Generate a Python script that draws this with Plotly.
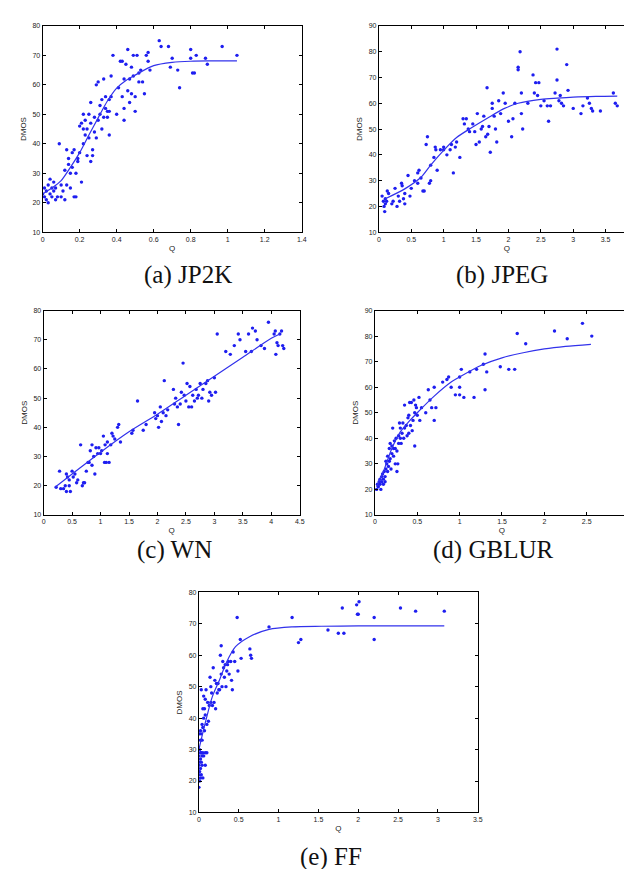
import plotly.graph_objects as go

# ---------------- data ----------------
# (a) JP2K
a_q = [0.0,0.01,0.01,0.02,0.02,0.03,0.03,0.04,0.04,0.05,0.05,0.06,0.06,0.07,0.07,0.08,0.09,0.1,0.1,0.11,
       0.12,0.12,0.13,0.13,0.14,0.14,0.15,0.15,0.16,0.16,0.17,0.17,0.18,0.18,0.19,0.19,0.2,0.2,0.21,0.21,
       0.22,0.22,0.22,0.23,0.23,0.24,0.24,0.25,0.25,0.26,0.26,0.26,0.27,0.27,0.28,0.28,0.29,0.29,0.3,0.3,
       0.31,0.31,0.32,0.32,0.33,0.33,0.34,0.34,0.35,0.35,0.36,0.36,0.36,0.37,0.37,0.38,0.4,0.41,0.42,0.43,
       0.43,0.44,0.44,0.44,0.45,0.46,0.46,0.47,0.47,0.48,0.48,0.49,0.49,0.5,0.5,0.51,0.52,0.52,0.53,0.54,
       0.55,0.56,0.57,0.57,0.58,0.63,0.64,0.68,0.69,0.7,0.73,0.74,0.8,0.8,0.81,0.82,0.83,0.88,0.89,0.97,1.05]
a_dmos = [23,25,22,21,24,26,20,23,28,25,22,27,24,21,25,22,40,22,26,24,
          31,21,38,26,33,35,30,25,37,32,22,38,22,30,35,34,37,46,27,47,
          45,50,40,43,48,45,36,42,50,54,34,47,36,38,44,49,60,42,61,48,
          53,50,45,55,62,49,52,56,51,49,55,43,51,63,56,70,50,59,68,68,
          56,62,52,48,67,72,58,62,54,66,57,70,63,51,56,70,64,61,65,61,
          57,70,68,71,65,75,73,73,66,69,65,59,69,72,64,64,70,69,67,73,70]
a_fit_q = [0,0.05,0.1,0.15,0.2,0.25,0.3,0.35,0.4,0.45,0.5,0.6,0.7,0.8,0.9,1.05]
a_fit_d = [23,25,27.5,32,37,43,48.8,54.5,58.9,61.5,63.3,66.5,67.6,68,68.1,68.1]

# (b) JPEG
b_q = [0.05,0.07,0.08,0.09,0.1,0.1,0.12,0.13,0.15,0.2,0.22,0.25,0.28,0.3,0.32,0.35,0.36,0.38,0.4,0.4,
       0.45,0.48,0.5,0.55,0.6,0.6,0.62,0.65,0.68,0.7,0.73,0.75,0.78,0.8,0.8,0.85,0.87,0.88,0.9,0.95,
       1.0,1.0,1.05,1.1,1.12,1.15,1.18,1.2,1.25,1.3,1.32,1.35,1.38,1.4,1.45,1.48,1.5,1.52,1.55,1.58,
       1.6,1.62,1.65,1.67,1.68,1.7,1.72,1.75,1.75,1.78,1.8,1.82,1.85,1.88,1.92,1.95,2.0,2.05,2.07,2.1,
       2.15,2.15,2.18,2.2,2.2,2.22,2.3,2.38,2.4,2.42,2.45,2.47,2.5,2.55,2.6,2.62,2.65,2.72,2.75,2.75,
       2.78,2.8,2.82,2.85,2.9,2.92,3.0,3.12,3.15,3.22,3.25,3.28,3.3,3.42,3.62,3.65,3.68]
b_dmos = [24,22,20,18,23,21,22,26,25,21,22,27,20,24,22,29,28,23,25,21,
          32,24,27,30,29,33,34,31,26,26,44,47,29,30,36,39,43,42,34,42,
          42,43,40,42,44,33,43,45,39,54,52,54,50,49,52,49,44,56,45,50,
          51,55,47,66,48,51,41,60,58,55,50,45,61,56,64,60,53,47,54,60,
          74,73,80,56,64,50,60,71,64,68,63,68,59,61,59,53,59,64,81,69,
          61,63,60,59,75,65,58,56,59,62,60,58,57,57,64,60,59]
b_fit_q = [0.1,0.4,0.65,0.8,1.0,1.2,1.43,1.68,1.94,2.15,2.5,2.75,3.0,3.35,3.68]
b_fit_d = [23,26.8,31.3,36,41.7,46.7,50.5,54.3,58,60,61.5,62,62.4,62.7,62.8]

# (c) WN
c_q = [0.22,0.28,0.3,0.35,0.38,0.4,0.4,0.42,0.45,0.45,0.47,0.5,0.52,0.55,0.58,0.6,0.65,0.68,0.7,0.72,
       0.75,0.78,0.8,0.82,0.85,0.85,0.88,0.9,0.92,0.95,0.97,1.0,1.02,1.05,1.07,1.08,1.1,1.12,1.12,1.15,
       1.18,1.2,1.22,1.25,1.3,1.32,1.35,1.55,1.57,1.65,1.75,1.8,1.95,1.97,2.0,2.02,2.05,2.07,2.1,2.12,
       2.15,2.18,2.28,2.3,2.32,2.35,2.37,2.4,2.42,2.45,2.47,2.5,2.52,2.55,2.57,2.6,2.62,2.65,2.68,2.7,
       2.72,2.75,2.78,2.8,2.85,2.88,2.9,2.92,2.95,3.0,3.02,3.05,3.2,3.28,3.35,3.42,3.45,3.55,3.6,3.65,
       3.67,3.72,3.75,3.82,3.88,3.95,4.05,4.07,4.08,4.1,4.12,4.15,4.18,4.2,4.22]
c_dmos = [19.5,25,19,19,20,24,18,23,22,20,18,25,23,24,21,22,34,20,21,21,
          25,28,28,32,34,27,30,24,33,31,33,31,32,37,28,34,28,35,31,28,
          34,38,37,36,40,41,35,38,39,49,39,41,45,43,44,40,47,42,45,56,
          44,46,53,48,50,47,41,48,52,62,51,49,55,47,54,47,51,49,53,50,
          51,55,50,53,55,56,49,52,51,57,52,72,66,65,68,72,70,66,72,66,
          74,73,70,68,67,76,72,73,65,69,68,72,73,68,67]
c_fit_q = [0.2,0.5,1.0,1.5,2.0,2.5,3.0,3.5,4.0,4.15]
c_fit_d = [19.5,24,31.5,38.5,44.5,51,57.5,64,70.5,72]

# (d) GBLUR
d_q = [0.02,0.03,0.04,0.05,0.06,0.06,0.07,0.08,0.08,0.09,0.1,0.1,0.11,0.12,0.12,0.13,0.13,0.14,0.15,0.15,
       0.16,0.17,0.17,0.18,0.18,0.19,0.2,0.2,0.21,0.22,0.22,0.23,0.24,0.24,0.25,0.26,0.26,0.27,0.28,0.28,
       0.29,0.3,0.3,0.31,0.32,0.33,0.34,0.35,0.35,0.37,0.38,0.39,0.4,0.4,0.41,0.42,0.43,0.44,0.45,0.46,
       0.47,0.47,0.48,0.49,0.5,0.52,0.53,0.55,0.6,0.63,0.65,0.67,0.7,0.7,0.72,0.8,0.85,0.87,0.9,0.95,
       1.0,1.0,1.0,1.02,1.05,1.12,1.17,1.2,1.28,1.3,1.3,1.32,1.48,1.58,1.65,1.68,1.78,2.12,2.27,2.45,2.56]
d_dmos = [20,22,21,23,22,24,20,25,23,26,22,24,27,23,25,28,31,30,27,33,
          29,31,36,32,38,28,34,37,44,33,36,39,30,36,40,27,35,30,41,38,
          46,40,44,38,42,46,40,53,44,45,41,48,49,42,54,45,54,43,47,55,
          37,50,53,52,49,56,47,52,50,59,55,52,47,60,52,62,63,64,60,57,
          57,60,64,67,56,66,56,67,69,73,59,66,68,67,67,81,77,82,79,85,80]
d_fit_q = [0.02,0.1,0.2,0.3,0.4,0.5,0.7,0.9,1.0,1.25,1.5,1.75,2.0,2.25,2.55]
d_fit_d = [21,27,36,42.5,46.5,50,56.5,62,64,68.5,71.5,73.5,75,76,76.8]

# (e) FF
e_q = [0.0,0.0,0.0,0.0,0.01,0.01,0.01,0.01,0.01,0.02,0.02,0.02,0.02,0.02,0.02,0.03,0.03,0.03,0.03,0.03,
       0.04,0.04,0.04,0.04,0.05,0.05,0.05,0.05,0.06,0.06,0.06,0.07,0.07,0.08,0.08,0.08,0.08,0.09,0.1,0.1,
       0.11,0.12,0.13,0.14,0.15,0.15,0.16,0.17,0.18,0.19,0.2,0.21,0.22,0.23,0.24,0.25,0.26,0.27,0.28,0.28,
       0.29,0.3,0.31,0.32,0.33,0.34,0.35,0.36,0.37,0.38,0.4,0.41,0.42,0.43,0.45,0.48,0.49,0.52,0.53,0.64,
       0.65,0.66,0.88,1.17,1.25,1.28,1.62,1.75,1.8,1.82,1.98,1.99,2.0,2.01,2.2,2.2,2.53,2.72,3.08]
e_dmos = [18,22,25,28,20,23,26,30,35,21,24,27,29,33,36,22,26,29,35,49,
          25,28,33,38,21,29,37,43,40,47,28,43,36,25,29,41,46,49,38,29,
          45,39,44,53,45,50,48,44,56,45,52,43,51,48,51,49,49,60,63,54,
          50,58,56,53,57,50,55,57,58,54,58,52,49,61,58,72,55,65,59,62,
          60,59,69,72,64,65,68,67,75,67,76,73,73,77,72,65,75,74,74]
e_fit_q = [0,0.09,0.17,0.26,0.34,0.46,0.63,0.88,1.17,1.54,2.0,2.5,3.08]
e_fit_d = [30,39.5,46.9,52.2,57.4,62.7,65.8,68.2,69,69.2,69.3,69.3,69.3]

captions = ["(a) JP2K", "(b) JPEG", "(c) WN", "(d) GBLUR", "(e) FF"]
x_ranges = [[0, 1.4], [0, 3.954], [0, 4.5], [0, 3], [0, 3.5]]
y_ranges = [[10, 80], [10, 90], [10, 80], [10, 90], [10, 80]]
x_dticks = [0.2, 0.5, 0.5, 0.5, 0.5]

# ---------------- layout ----------------
W, H = 632, 869
# pixel boxes of the panels: (left, right, top, bottom)
boxes = [(33, 295, 14, 222), (373, 632, 14, 222), (34, 293, 301, 507),
         (369, 626, 301, 507), (191, 473, 585, 807)]
cap_pos = [(180, 265), (498, 265), (166, 542), (488, 542), (325, 852)]

scatter_sets = [(a_q, a_dmos, a_fit_q, a_fit_d), (b_q, b_dmos, b_fit_q, b_fit_d),
                (c_q, c_dmos, c_fit_q, c_fit_d), (d_q, d_dmos, d_fit_q, d_fit_d),
                (e_q, e_dmos, e_fit_q, e_fit_d)]

fig = go.Figure()
tick_font = dict(family="Liberation Sans", size=7, color="#222")
title_font = dict(family="Liberation Sans", size=8, color="#222")
layout = dict(width=W, height=H, margin=dict(l=0, r=0, t=0, b=0),
              paper_bgcolor="white", plot_bgcolor="white", showlegend=False)
annotations = []
for i, ((qx, dy, fx, fy), (l, r, t, b)) in enumerate(zip(scatter_sets, boxes)):
    n = "" if i == 0 else str(i + 1)
    fig.add_trace(go.Scatter(x=qx, y=dy, mode="markers", xaxis="x" + n, yaxis="y" + n,
                             marker=dict(size=3.4, color="rgb(30,30,240)"), hoverinfo="skip"))
    fig.add_trace(go.Scatter(x=fx, y=fy, mode="lines", xaxis="x" + n, yaxis="y" + n,
                             line=dict(color="rgb(50,50,235)", width=1.2, shape="spline",
                                       smoothing=0.8),
                             hoverinfo="skip"))
    common = dict(showline=True, linecolor="black", linewidth=1, mirror="allticks",
                  ticks="inside", ticklen=3, tickcolor="black", showgrid=False,
                  zeroline=False, tickfont=tick_font, title_font=title_font)
    layout["xaxis" + n] = dict(domain=[l / W, r / W], range=x_ranges[i], dtick=x_dticks[i],
                               tick0=0, anchor="y" + n, title=dict(text="Q", standoff=3),
                               **common)
    layout["yaxis" + n] = dict(domain=[1 - b / H, 1 - t / H], range=y_ranges[i], dtick=10,
                               tick0=0, anchor="x" + n, title=dict(text="DMOS", standoff=4),
                               **common)
    cx, cy = cap_pos[i]
    annotations.append(dict(text=captions[i], x=cx / W, y=1 - cy / H, xref="paper",
                            yref="paper", showarrow=False, xanchor="center", yanchor="middle",
                            font=dict(family="Liberation Serif", size=25, color="#111")))
layout["annotations"] = annotations
fig.update_layout(**layout)
fig.write_html("out.html")
